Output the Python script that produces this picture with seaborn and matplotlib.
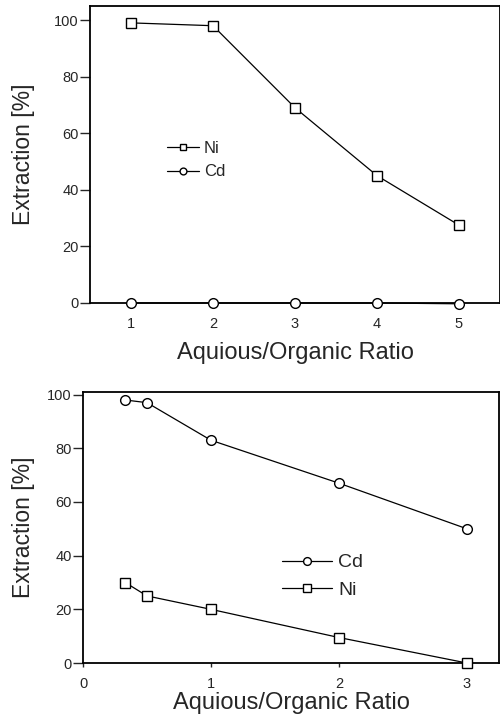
import matplotlib
matplotlib.use("Agg")
import matplotlib.pyplot as plt
import seaborn as sns
import pandas as pd

# Top panel data
top_x = [1, 2, 3, 4, 5]
top_ni = [99, 98, 69, 45, 27.5]
top_cd = [0, 0, 0, 0, -0.3]

# Bottom panel data
bot_x = [0.33, 0.5, 1, 2, 3]
bot_cd = [98, 97, 83, 67, 50]
bot_ni = [30, 25, 20, 9.5, 0]

sns.set_style("ticks")
plt.rcParams['font.family'] = ['Liberation Sans', 'DejaVu Sans']

fig = plt.figure(figsize=(5.0, 7.21), dpi=100)
ax1 = fig.add_axes([0.18, 0.5798, 0.82, 0.412])
ax2 = fig.add_axes([0.166, 0.0804, 0.832, 0.376])

df_top = pd.DataFrame({
    "x": top_x * 2,
    "y": top_ni + top_cd,
    "metal": ["Ni"] * 5 + ["Cd"] * 5,
})
df_bot = pd.DataFrame({
    "x": bot_x * 2,
    "y": bot_cd + bot_ni,
    "metal": ["Cd"] * 5 + ["Ni"] * 5,
})

common = dict(x="x", y="y", hue="metal", style="metal",
              palette={"Ni": "black", "Cd": "black"},
              markers={"Ni": "s", "Cd": "o"},
              dashes=False, linewidth=0.9, markersize=7,
              markerfacecolor="white", markeredgecolor="black",
              markeredgewidth=1.0, clip_on=False, zorder=3)

sns.lineplot(data=df_top, ax=ax1, hue_order=["Ni", "Cd"], style_order=["Ni", "Cd"], **common)
sns.lineplot(data=df_bot, ax=ax2, hue_order=["Cd", "Ni"], style_order=["Cd", "Ni"], **common)

for ax in (ax1, ax2):
    for s in ax.spines.values():
        s.set_linewidth(1.3)
        s.set_color("black")
    ax.set_yticks([0, 20, 40, 60, 80, 100])
    ax.tick_params(axis="y", direction="out", length=7, width=1, labelsize=10.5, pad=1)
    ax.tick_params(axis="x", direction="out", length=3, width=1, labelsize=10.5, pad=7)

ax1.set_ylabel("Extraction [%]", fontsize=16.5, labelpad=14)
ax1.set_xlabel("Aquious/Organic Ratio", fontsize=17, labelpad=8)
ax2.set_ylabel("Extraction [%]", fontsize=16.5, labelpad=8.5)
ax2.set_xlabel("Aquious/Organic Ratio", fontsize=17, labelpad=0.5)

ax1.set_xlim(0.5, 5.5)
ax1.set_ylim(0, 105)
ax1.set_xticks([1, 2, 3, 4, 5])

ax2.set_xlim(0, 3.25)
ax2.set_ylim(0, 101)
ax2.set_xticks([0, 1, 2, 3])

leg1 = ax1.legend(loc="upper left", bbox_to_anchor=(0.168, 0.573), frameon=False,
                  handlelength=1.9, fontsize=12, borderpad=0, labelspacing=0.5,
                  handletextpad=0.3, markerscale=0.7)
leg2 = ax2.legend(loc="upper left", bbox_to_anchor=(0.454, 0.439), frameon=False,
                  handlelength=2.6, fontsize=14, borderpad=0, labelspacing=0.5,
                  handletextpad=0.3, markerscale=0.8)

fig.savefig("out.png", dpi=100)
